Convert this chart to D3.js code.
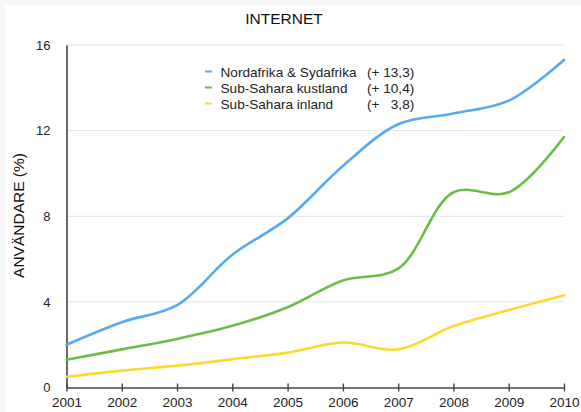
<!DOCTYPE html>
<html>
<head>
<meta charset="utf-8">
<script src="https://cdn.jsdelivr.net/npm/d3@7"></script>
<style>
  html, body { margin: 0; padding: 0; background: #fff; }
  svg { display: block; font-family: "Liberation Sans", Arial, Helvetica, sans-serif; }
</style>
</head>
<body>
<svg id="chart" width="581" height="412"></svg>
<script>
// Internet users (% of population), by region, 2001–2010
const years = [2001, 2002, 2003, 2004, 2005, 2006, 2007, 2008, 2009, 2010];
const nordSyd = [2.0, 3.05, 3.85, 6.2, 7.9, 10.35, 12.3, 12.8, 13.4, 15.3];
const kustland = [1.3, 1.78, 2.27, 2.88, 3.75, 5.0, 5.55, 9.12, 9.12, 11.7];
const inland = [0.5, 0.79, 1.02, 1.32, 1.63, 2.1, 1.78, 2.87, 3.62, 4.3];
const seriesNames = ["Nordafrika & Sydafrika", "Sub-Sahara kustland", "Sub-Sahara inland"];
const seriesDeltas = ["(+ 13,3)", "(+ 10,4)", "(+   3,8)"];
const seriesColors = ["#55aaf0", "#6cbd45", "#f7dc2e"];
const yTicks = [0, 4, 8, 12, 16];

const svg = d3.select("#chart");
const W = 581, H = 412;

// faint frame edge
svg.append("rect").attr("x", 0).attr("y", 0).attr("width", W).attr("height", H).attr("fill", "#f7f7f7");
svg.append("rect").attr("x", 5).attr("y", 5).attr("width", W - 5).attr("height", H - 5).attr("fill", "#ffffff");

const x = d3.scaleLinear().domain([2001, 2010]).range([66.5, 564]);
const y = d3.scaleLinear().domain([0, 16]).range([387.5, 45]);

// horizontal grid
svg.append("g").selectAll("line").data(yTicks.filter(d => d > 0)).join("line")
  .attr("x1", x(2001)).attr("x2", x(2010))
  .attr("y1", d => y(d)).attr("y2", d => y(d))
  .attr("stroke", "#e4e4e4").attr("stroke-width", 1);

// y axis
const yAxis = d3.axisLeft(y).tickValues(yTicks).tickSize(0).tickPadding(16).tickFormat(d3.format("d"));
const gy = svg.append("g").attr("transform", `translate(${x(2001)},0)`).call(yAxis);
gy.select(".domain").attr("stroke", "#444").attr("stroke-width", 1.6);
gy.selectAll("text").attr("font-size", 13).attr("fill", "#222").attr("font-family", "Liberation Sans, Arial, sans-serif");

// x axis with ticks crossing the line
const xAxis = d3.axisBottom(x).tickValues(years).tickSize(4).tickSizeOuter(0).tickPadding(6).tickFormat(d3.format("d"));
const gx = svg.append("g").attr("transform", `translate(0,${y(0)})`).call(xAxis);
gx.select(".domain").attr("stroke", "#444").attr("stroke-width", 1.6);
gx.selectAll(".tick line").attr("y1", -4).attr("y2", 4).attr("stroke", "#444").attr("stroke-width", 1.4);
gx.selectAll("text").attr("font-size", 13.5).attr("fill", "#222").attr("font-family", "Liberation Sans, Arial, sans-serif");

// lines
const allSeries = [nordSyd, kustland, inland];
const line = d3.line()
  .x((d, i) => x(years[i]))
  .y(d => y(d))
  .curve(d3.curveCatmullRom.alpha(0.5));

svg.append("g").selectAll("path").data(allSeries).join("path")
  .attr("d", d => line(d))
  .attr("fill", "none")
  .attr("stroke", (d, i) => seriesColors[i])
  .attr("stroke-width", 2.6)
  .attr("stroke-linejoin", "round")
  .attr("stroke-linecap", "round");

// title
svg.append("text").attr("x", 284).attr("y", 23.5).attr("text-anchor", "middle")
  .attr("font-size", 15.5).attr("fill", "#111").text("INTERNET");

// y axis title
svg.append("text").attr("transform", "translate(24,215.5) rotate(-90)").attr("text-anchor", "middle")
  .attr("font-size", 15.5).attr("fill", "#111").text("ANVÄNDARE (%)");

// legend
const legend = svg.append("g");
const rowY = [71.5, 87.5, 103.5];
seriesNames.forEach((name, i) => {
  legend.append("line").attr("x1", 205).attr("x2", 212).attr("y1", rowY[i]).attr("y2", rowY[i])
    .attr("stroke", seriesColors[i]).attr("stroke-width", 2);
  legend.append("text").attr("x", 220.5).attr("y", rowY[i] + 5).attr("font-size", 13.6)
    .attr("fill", "#222").text(name);
  legend.append("text").attr("x", 367).attr("y", rowY[i] + 5).attr("font-size", 13.6)
    .attr("fill", "#222").style("white-space", "pre").attr("xml:space", "preserve").text(seriesDeltas[i]);
});
</script>
</body>
</html>
